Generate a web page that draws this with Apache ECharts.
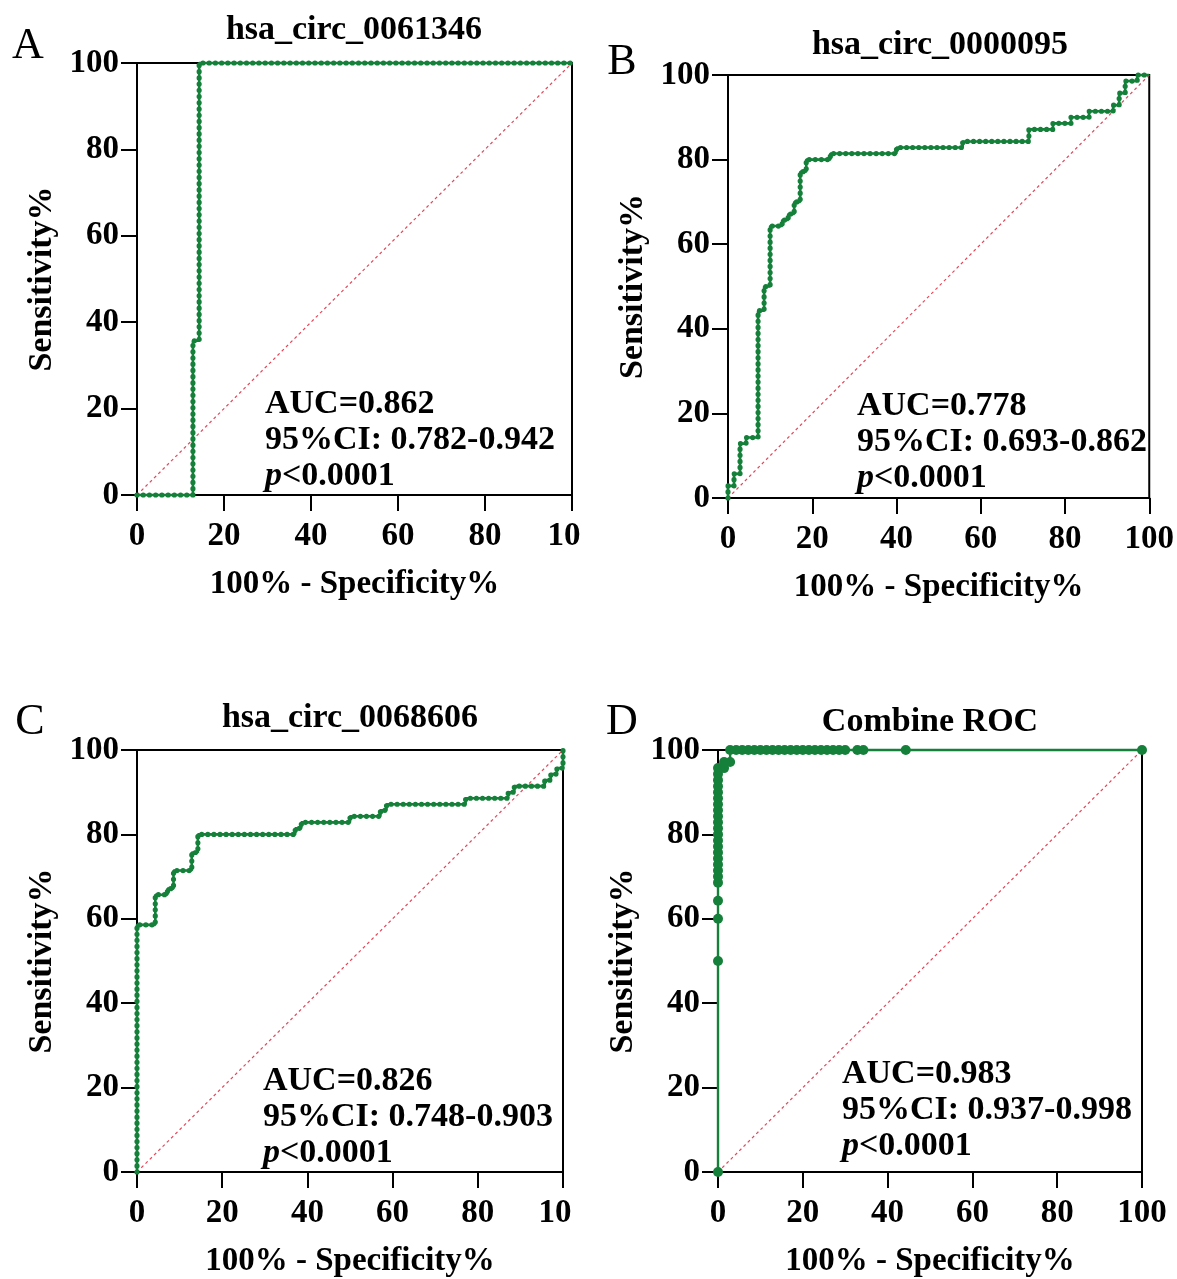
<!DOCTYPE html>
<html><head><meta charset="utf-8">
<script src="https://cdn.jsdelivr.net/npm/echarts@6/dist/echarts.min.js"></script>
<style>html,body{margin:0;padding:0;background:#fff}#c{width:1177px;height:1279px}</style>
</head><body><div id="c"></div>
<script>
// ---- data ----
const panelLetters = ['A', 'B', 'C', 'D'];
const panelTitles = ['hsa_circ_0061346', 'hsa_circ_0000095', 'hsa_circ_0068606', 'Combine ROC'];
const xTickValues = [0, 20, 40, 60, 80, 100];
const yTickValues = [0, 20, 40, 60, 80, 100];
const xAxisTitle = '100% - Specificity%';
const yAxisTitle = 'Sensitivity%';
const aucLabels = ['AUC=0.862', 'AUC=0.778', 'AUC=0.826', 'AUC=0.983'];
const ciLabels = ['95%CI: 0.782-0.942', '95%CI: 0.693-0.862', '95%CI: 0.748-0.903', '95%CI: 0.937-0.998'];
const pLabel = ['p', '<0.0001'];
const chanceLine = [[0, 0], [100, 100]];

// ROC corners: [100% - specificity, sensitivity]
const rocA = [[0,0],[12.86,0],[12.86,35.71],[14.29,35.71],[14.29,100],[100,100]];
const rocB = [[0,0],[0,2.86],[1.43,2.86],[1.43,5.71],[2.86,5.71],[2.86,12.86],[4.29,12.86],[4.29,14.29],
  [7.14,14.29],[7.14,44.29],[8.57,44.29],[8.57,50],[10,50],[10,64.29],[12.86,64.29],[12.86,65.71],
  [14.29,65.71],[14.29,67.14],[15.71,67.14],[15.71,70],[17.14,70],[17.14,77.14],[18.57,77.14],[18.57,80],
  [24.29,80],[24.29,81.43],[40,81.43],[40,82.86],[55.71,82.86],[55.71,84.29],[71.43,84.29],[71.43,87.14],
  [77.14,87.14],[77.14,88.57],[81.43,88.57],[81.43,90],[85.71,90],[85.71,91.43],[91.43,91.43],[91.43,92.86],
  [92.86,92.86],[92.86,95.71],[94.29,95.71],[94.29,98.57],[97.14,98.57],[97.14,100],[100,100]];
const rocC = [[0,0],[0,58.57],[4.29,58.57],[4.29,65.71],[7.14,65.71],[7.14,67.14],[8.57,67.14],[8.57,71.43],
  [12.86,71.43],[12.86,75.71],[14.29,75.71],[14.29,80],[37.14,80],[37.14,81.43],[38.57,81.43],[38.57,82.86],
  [50,82.86],[50,84.29],[57.14,84.29],[57.14,85.71],[58.57,85.71],[58.57,87.14],[77.14,87.14],[77.14,88.57],
  [87.14,88.57],[87.14,90],[88.57,90],[88.57,91.43],[95.71,91.43],[95.71,92.86],[97.14,92.86],[97.14,94.29],
  [98.57,94.29],[98.57,95.71],[100,95.71],[100,100]];
// Combined model: every ROC point is drawn as a marker
const rocD = [[0,0],[0,50],[0,60],[0,64.29],[0,68.57],[0,70],[0,71.43],[0,72.86],[0,74.29],[0,75.71],
  [0,77.14],[0,78.57],[0,80],[0,81.43],[0,82.86],[0,84.29],[0,85.71],[0,87.14],[0,88.57],[0,90],
  [0,91.43],[0,92.86],[0,94.29],[0,95.71],[1.43,95.71],[1.43,97.14],[2.86,97.14],[2.86,100],
  [4.29,100],[5.71,100],[7.14,100],[8.57,100],[10,100],[11.43,100],[12.86,100],[14.29,100],[15.71,100],
  [17.14,100],[18.57,100],[20,100],[21.43,100],[22.86,100],[24.29,100],[25.71,100],[27.14,100],
  [28.57,100],[30,100],[32.86,100],[34.29,100],[44.29,100],[100,100]];
const rocSeries = [rocA, rocB, rocC, rocD];

// ---- layout / style ----
const FONT = "'Liberation Serif','Times New Roman',serif";
const GREEN = '#15803a';
const grids = [
  {left: 137, top: 63, width: 435, height: 432},
  {left: 728, top: 75, width: 425, height: 423},
  {left: 137, top: 750, width: 426, height: 424},
  {left: 718, top: 750, width: 424, height: 422}
];
const clippedLast = [true, false, true, false];
const titlePos = [[354, 30], [940, 45], [350, 718], [930, 722]];
const letterPos = [[28, 46], [622, 62], [30, 722], [622, 722]];
const annotPos = [[265, 405], [857, 407], [263, 1082], [842, 1075]];

const chart = echarts.init(document.getElementById('c'), null, {renderer: 'canvas'});
const xAxes = [], yAxes = [], series = [], graphics = [];
grids.forEach((g, i) => {
  xAxes.push({
    type: 'value', gridIndex: i, min: xTickValues[0], max: xTickValues[xTickValues.length - 1],
    interval: xTickValues[1] - xTickValues[0],
    axisLine: {show: true, onZero: false, lineStyle: {color: '#000', width: 2}},
    axisTick: {show: true, inside: false, length: 16, lineStyle: {color: '#000', width: 2}},
    splitLine: {show: false},
    axisLabel: {
      margin: 25, color: '#000', fontFamily: FONT, fontWeight: 'bold', fontSize: 33,
      formatter: v => (clippedLast[i] && v === 100) ? '{c|10}' : String(v),
      rich: {c: {fontFamily: FONT, fontWeight: 'bold', fontSize: 33, color: '#000', padding: [0, 16, 0, 0]}}
    },
    name: xAxisTitle, nameLocation: 'middle', nameGap: 73,
    nameTextStyle: {color: '#000', fontFamily: FONT, fontWeight: 'bold', fontSize: 33}
  });
  yAxes.push({
    type: 'value', gridIndex: i, min: yTickValues[0], max: yTickValues[yTickValues.length - 1],
    interval: yTickValues[1] - yTickValues[0],
    axisLine: {show: true, onZero: false, lineStyle: {color: '#000', width: 2}},
    axisTick: {show: true, inside: false, length: 16, lineStyle: {color: '#000', width: 2}},
    splitLine: {show: false},
    axisLabel: {margin: 18, color: '#000', fontFamily: FONT, fontWeight: 'bold', fontSize: 33},
    name: yAxisTitle, nameLocation: 'middle', nameGap: 78, nameRotate: 90,
    nameTextStyle: {color: '#000', fontFamily: FONT, fontWeight: 'bold', fontSize: 34}
  });
  series.push({
    type: 'line', xAxisIndex: i, yAxisIndex: i, data: chanceLine, symbol: 'none', silent: true,
    lineStyle: {color: '#e0485a', width: 1.2, type: [3, 3]}, z: 2, clip: false
  });
  if (i < 3) {
    series.push({
      type: 'line', xAxisIndex: i, yAxisIndex: i, data: rocSeries[i], symbol: 'none',
      lineStyle: {color: GREEN, width: 2.6}, z: 3, clip: false
    });
    const step = g.width / 70;
    series.push({
      type: 'line', xAxisIndex: i, yAxisIndex: i, data: rocSeries[i], symbol: 'none',
      lineStyle: {color: GREEN, width: 5.2, type: [0.01, step], cap: 'round', join: 'round'}, z: 4, clip: false
    });
  } else {
    series.push({
      type: 'line', xAxisIndex: i, yAxisIndex: i, data: rocSeries[i], symbol: 'circle', symbolSize: 10,
      itemStyle: {color: GREEN}, lineStyle: {color: GREEN, width: 2.4}, z: 4, clip: false
    });
  }
  graphics.push({
    type: 'text', x: titlePos[i][0], y: titlePos[i][1], z: 10,
    style: {text: panelTitles[i], font: `bold 34px ${FONT}`, fill: '#000', align: 'center', verticalAlign: 'middle',
      textAlign: 'center', textVerticalAlign: 'middle'}
  });
  graphics.push({
    type: 'text', x: letterPos[i][0], y: letterPos[i][1], z: 10,
    style: {text: panelLetters[i], font: `44px ${FONT}`, fill: '#000', align: 'center', verticalAlign: 'middle',
      textAlign: 'center', textVerticalAlign: 'middle'}
  });
  graphics.push({
    type: 'text', x: annotPos[i][0], y: annotPos[i][1] - 19, z: 10,
    style: {
      text: `{b|${aucLabels[i]}}\n{b|${ciLabels[i]}}\n{i|${pLabel[0]}}{b|${pLabel[1]}}`,
      fill: '#000', align: 'left', verticalAlign: 'top', textAlign: 'left', textVerticalAlign: 'top',
      rich: {
        b: {font: `bold 34px ${FONT}`, fill: '#000', color: '#000', lineHeight: 36, fontFamily: FONT, fontWeight: 'bold', fontSize: 34},
        i: {font: `italic bold 34px ${FONT}`, fill: '#000', color: '#000', lineHeight: 36, fontFamily: FONT, fontWeight: 'bold', fontStyle: 'italic', fontSize: 34}
      }
    }
  });
});

chart.setOption({
  backgroundColor: '#fff',
  animation: false,
  grid: grids.map(g => Object.assign({show: true, borderColor: '#000', borderWidth: 2, backgroundColor: 'transparent'}, g)),
  xAxis: xAxes,
  yAxis: yAxes,
  series: series,
  graphic: graphics
});
</script>
</body></html>
